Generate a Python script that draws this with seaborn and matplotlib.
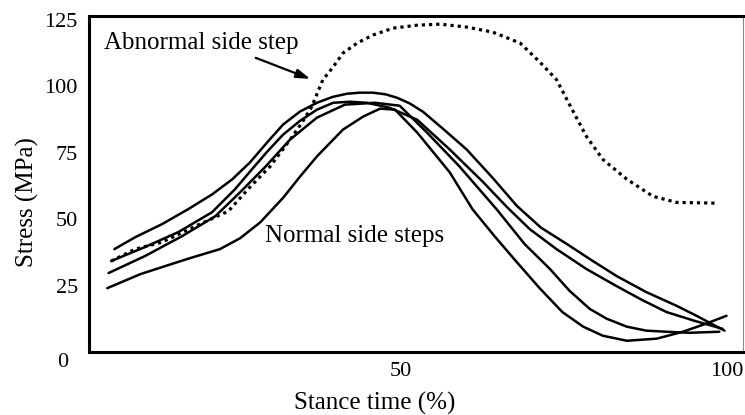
import matplotlib
matplotlib.use('Agg')
import matplotlib.pyplot as plt
import seaborn as sns

# ── data (stance time %, stress MPa) ──────────────────────────────────────
step_a_x = [6.0, 9.2, 13.3, 17.3, 21.0, 24.1, 26.8, 29.5, 31.9, 34.5, 37.1, 39.5, 41.7, 43.7,
            45.7, 47.6, 49.4, 51.4, 53.4, 56.7, 60.1, 64.1, 67.8, 71.5, 75.5, 79.3, 83.1,
            87.7, 92.3, 95.4, 99.7]
step_a_y = [38.7, 43.2, 48.1, 53.7, 59.3, 65.0, 71.3, 79.0, 85.6, 90.5, 93.8, 96.0, 97.2, 97.6,
            97.6, 97.0, 95.7, 93.5, 90.4, 83.5, 76.2, 65.5, 55.0, 46.8, 40.6, 34.5, 28.6,
            22.5, 17.4, 13.6, 8.0]

step_b_x = [5.5, 10.7, 15.8, 21.0, 24.5, 27.1, 29.5, 31.9, 34.5, 37.1, 39.6, 42.2, 44.8, 48.3,
            52.5, 57.5, 62.6, 66.3, 69.8, 73.9, 78.5, 83.1, 87.0, 90.8, 95.1, 99.4]
step_b_y = [34.2, 39.5, 45.1, 52.6, 61.2, 68.7, 75.5, 81.8, 87.0, 91.2, 93.8, 94.2, 93.8, 91.9,
            87.4, 76.2, 64.0, 54.5, 46.2, 38.7, 31.2, 24.8, 19.6, 15.0, 11.7, 8.7]

step_c_x = [5.1, 10.7, 16.4, 21.5, 25.3, 29.1, 33.0, 37.1, 41.4, 46.0, 49.8, 54.0, 59.0, 64.7,
            69.0, 72.9, 75.9, 79.0, 81.6, 84.7, 87.7, 90.8, 94.3, 98.9]
step_c_y = [29.7, 36.1, 43.6, 51.1, 60.1, 69.5, 80.0, 88.2, 93.1, 93.8, 92.7, 82.6, 69.8, 53.7,
            40.6, 31.2, 23.0, 16.2, 12.5, 9.5, 8.0, 7.6, 7.2, 7.6]

step_d_x = [4.9, 10.0, 17.2, 22.2, 25.3, 28.4, 31.9, 34.5, 37.1, 41.1, 44.2, 46.8, 49.1, 52.5,
            57.5, 61.0, 64.4, 67.8, 71.3, 74.8, 78.0, 81.0, 84.7, 89.3, 93.3, 96.7, 100.0]
step_d_y = [24.0, 29.3, 35.0, 38.7, 42.8, 48.8, 58.0, 66.0, 73.6, 83.7, 88.6, 91.6, 91.2, 82.6,
            67.6, 53.7, 43.5, 33.8, 24.0, 15.0, 9.5, 6.1, 4.2, 5.0, 7.6, 10.5, 13.6]

abnormal_x = [5.5, 9.2, 13.3, 18.4, 23.5, 26.8, 29.9, 33.0, 34.8, 36.3, 38.0, 39.6, 41.1, 43.3,
              45.7, 48.8, 52.5, 56.0, 60.1, 64.1, 68.3, 71.3, 73.9, 75.9, 78.5, 81.0, 84.7,
              88.7, 92.3, 98.6]
abnormal_y = [34.2, 38.7, 41.3, 47.3, 53.0, 62.0, 69.8, 80.0, 86.3, 92.3, 102.4, 107.3, 112.5,
              116.3, 119.3, 121.9, 123.0, 123.4, 122.3, 120.4, 116.3, 109.2, 102.5, 93.1, 81.1,
              72.5, 65.0, 58.6, 56.3, 56.0]

normal_steps = [(step_a_x, step_a_y), (step_b_x, step_b_y),
                (step_c_x, step_c_y), (step_d_x, step_d_y)]

x_ticks = [50, 100]
y_ticks = [25, 50, 75, 100, 125]

sns.set_theme(style='white')
plt.rcParams['font.family'] = ['Liberation Serif', 'DejaVu Serif']

fig = plt.figure(figsize=(7.45, 4.15), dpi=100)
ax = fig.add_axes([0.1195, 0.152, 0.8775, 0.809])

for xs, ys in normal_steps:
    sns.lineplot(x=xs, y=ys, ax=ax, color='black', lw=1.8, sort=False, estimator=None,
                 solid_joinstyle='round', solid_capstyle='round')
sns.lineplot(x=abnormal_x, y=abnormal_y, ax=ax, color='black', lw=2.3, sort=False,
             estimator=None, linestyle=(0, (1, 1.25)))

ax.set_xlim(2.1, 102.5)
ax.set_ylim(0, 126.4)
ax.set_xticks(x_ticks)
ax.set_yticks(y_ticks)
ax.tick_params(length=0, labelsize=16, colors='black')
ax.tick_params(axis='y', pad=8)
ax.tick_params(axis='x', pad=7)
ax.text(-0.041, -0.033, '0', transform=ax.transAxes, ha='center', va='center',
        fontsize=16, color='black')

for sp in ['left', 'bottom', 'top']:
    ax.spines[sp].set_color('black')
    ax.spines[sp].set_linewidth(2.2)
ax.spines['right'].set_color('#888888')
ax.spines['right'].set_linewidth(0.8)

ax.set_xlabel('Stance time (%)', fontsize=18, color='black')
ax.set_ylabel('Stress (MPa)', fontsize=18, color='black')
ax.xaxis.set_label_coords(0.437, -0.118)
ax.yaxis.set_label_coords(-0.077, 0.446)

ax.text(4.4, 116.3, 'Abnormal side step', fontsize=18, va='center', ha='left', color='black')
ax.annotate('', xy=(36.5, 102.4), xytext=(27.3, 111.1),
            arrowprops=dict(arrowstyle='-|>,head_length=0.7,head_width=0.22',
                            color='black', lw=1.6))
ax.text(29.1, 43.6, 'Normal side steps', fontsize=18, va='center', ha='left', color='black')

plt.savefig('out.png', dpi=100, facecolor='white')
plt.close()
